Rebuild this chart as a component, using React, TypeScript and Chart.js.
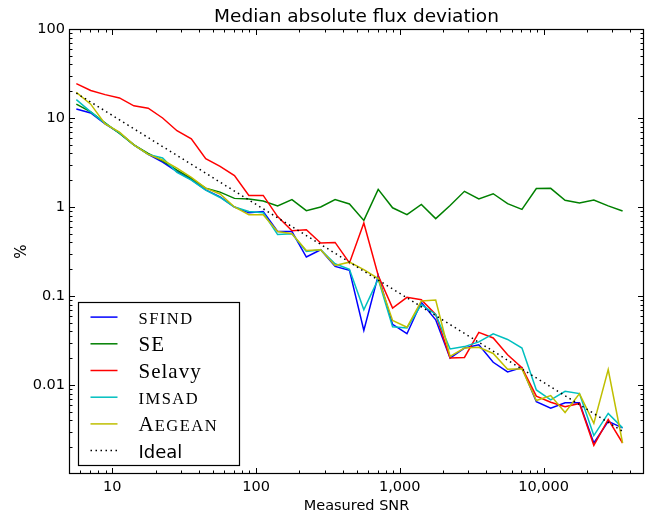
import React, { useEffect, useRef } from 'react';
import { Chart, registerables } from 'chart.js';

Chart.register(...registerables);

// Measured SNR bin centres
const SNR = [
  5.623, 7.079, 8.913, 11.22, 14.13, 17.78, 22.39, 28.18, 35.48, 44.67,
  56.23, 70.79, 89.13, 112.2, 141.3, 177.8, 223.9, 281.8, 354.8, 446.7,
  562.3, 707.9, 891.3, 1122, 1413, 1778, 2239, 2818, 3548, 4467,
  5623, 7079, 8913, 11220, 14125, 17783, 22387, 28184, 35481,
];

const SFIND = [
  12.6, 11.4, 8.6, 6.8, 5.0, 3.9, 3.2, 2.5, 2.03, 1.56,
  1.3, 1.0, 0.86, 0.89, 0.53, 0.53, 0.274, 0.331, 0.215, 0.194,
  0.041, 0.17, 0.048, 0.0377, 0.085, 0.054, 0.0201, 0.026, 0.0283, 0.018,
  0.014, 0.0157, 0.0065, 0.0055, 0.0063, 0.0063, 0.00223, 0.0039, 0.0033,
];

const SE = [
  14.3, 11.7, 8.8, 6.7, 5.0, 4.0, 3.3, 2.6, 2.1, 1.63,
  1.47, 1.25, 1.23, 1.17, 1.03, 1.21, 0.91, 1.0, 1.21, 1.08,
  0.707, 1.58, 0.98, 0.82, 1.07, 0.74, 1.04, 1.5, 1.23, 1.41,
  1.09, 0.94, 1.61, 1.62, 1.19, 1.11, 1.2, 1.03, 0.9,
];

const SELAVY = [
  24.3, 20.4, 18.3, 16.8, 13.7, 12.9, 10.0, 7.2, 5.85, 3.49,
  2.86, 2.25, 1.35, 1.35, 0.78, 0.54, 0.556, 0.394, 0.4, 0.235,
  0.66, 0.17, 0.073, 0.0965, 0.091, 0.062, 0.0201, 0.0204, 0.039, 0.0338,
  0.0219, 0.0156, 0.0075, 0.0064, 0.0057, 0.0062, 0.0021, 0.0041, 0.00223,
];

const IMSAD = [
  16.1, 11.7, 8.7, 6.8, 5.0, 3.9, 3.55, 2.45, 2.0, 1.55,
  1.28, 1.0, 0.89, 0.86, 0.49, 0.5, 0.317, 0.331, 0.23, 0.2,
  0.07, 0.155, 0.045, 0.0437, 0.08, 0.062, 0.0254, 0.027, 0.0305, 0.0376,
  0.0325, 0.026, 0.0088, 0.0068, 0.0085, 0.008, 0.0027, 0.0048, 0.0033,
];

const AEGEAN = [
  19.4, 14.3, 8.6, 6.95, 5.0, 3.9, 3.37, 2.74, 2.15, 1.63,
  1.4, 1.0, 0.82, 0.82, 0.53, 0.5, 0.325, 0.331, 0.22, 0.24,
  0.198, 0.157, 0.053, 0.0445, 0.088, 0.09, 0.021, 0.026, 0.0265, 0.0226,
  0.015, 0.0152, 0.0067, 0.0076, 0.0049, 0.008, 0.0037, 0.0149, 0.00223,
];

const IDEAL = [
  19.0, 15.1, 12.0, 9.54, 7.57, 6.02, 4.78, 3.8, 3.02, 2.4,
  1.9, 1.51, 1.2, 0.954, 0.757, 0.602, 0.478, 0.38, 0.302, 0.24,
  0.19, 0.151, 0.12, 0.0954, 0.0757, 0.0602, 0.0478, 0.038, 0.0302, 0.024,
  0.019, 0.0151, 0.012, 0.00954, 0.00757, 0.00602, 0.00478, 0.0038, 0.00302,
];

const SERIES_LABELS = ['SFIND', 'SE', 'Selavy', 'IMSAD', 'AEGEAN', 'Ideal'];
const X_TICKS = [10, 100, 1000, 10000];
const Y_TICKS = [0.01, 0.1, 1, 10, 100];
const X_RANGE = [5, 50000];
const Y_RANGE = [0.001, 100];

const SANS = 'DejaVu Sans';
const SERIF = 'Liberation Serif';

// legend text style per label: 'sc' small caps, 'sc1' first letter full then small caps
const LEGEND_STYLE: Record<string, string> = {
  SFIND: 'sc',
  SE: 'serif',
  Selavy: 'serif',
  IMSAD: 'sc',
  AEGEAN: 'sc1',
  Ideal: 'sans',
};

function logTicks(min: number, max: number) {
  const out: { v: number; major: boolean }[] = [];
  const e0 = Math.floor(Math.log10(min));
  const e1 = Math.ceil(Math.log10(max));
  for (let e = e0; e <= e1; e++) {
    for (let m = 1; m <= 9; m++) {
      const v = m * Math.pow(10, e);
      if (v > min * 1.0001 && v < max * 0.9999) out.push({ v, major: m === 1 });
    }
  }
  return out;
}

const framePlugin = {
  id: 'frameTicks',
  afterDatasetsDraw(chart: any) {
    const { ctx, chartArea: a, scales } = chart;
    const xs = scales.x;
    const ys = scales.y;
    const L = Math.round(a.left) + 0.5;
    const R = Math.round(a.right) - 0.5;
    const T = Math.round(a.top) + 0.5;
    const B = Math.round(a.bottom) - 0.5;
    ctx.save();
    ctx.strokeStyle = '#000';
    ctx.lineWidth = 1;
    ctx.beginPath();
    for (const t of logTicks(xs.min, xs.max)) {
      const px = Math.round(xs.getPixelForValue(t.v)) + 0.5;
      const len = t.major ? 5.5 : 3;
      ctx.moveTo(px, B);
      ctx.lineTo(px, B - len);
      ctx.moveTo(px, T);
      ctx.lineTo(px, T + len);
    }
    for (const t of logTicks(ys.min, ys.max)) {
      const py = Math.round(ys.getPixelForValue(t.v)) + 0.5;
      const len = t.major ? 5.5 : 3;
      ctx.moveTo(L, py);
      ctx.lineTo(L + len, py);
      ctx.moveTo(R, py);
      ctx.lineTo(R - len, py);
    }
    ctx.stroke();
    ctx.lineWidth = 1.2;
    ctx.strokeRect(L, T, R - L, B - T);
    ctx.restore();
  },
};

const legendPlugin = {
  id: 'innerLegend',
  afterDraw(chart: any) {
    const { ctx, chartArea: a } = chart;
    const datasets = chart.data.datasets;
    const bx = Math.round(a.left) + 9.5;
    const bw = 161;
    const bh = 163;
    const by = Math.round(a.bottom) - 8.5 - bh;
    ctx.save();
    ctx.fillStyle = '#fff';
    ctx.fillRect(bx, by, bw, bh);
    ctx.strokeStyle = '#000';
    ctx.lineWidth = 1.2;
    ctx.strokeRect(bx, by, bw, bh);
    const rowH = 26.7;
    datasets.forEach((ds: any, i: number) => {
      const cy = by + 14.6 + i * rowH;
      ctx.save();
      ctx.strokeStyle = ds.borderColor;
      ctx.lineWidth = ds.borderWidth;
      ctx.setLineDash(ds.borderDash || []);
      ctx.beginPath();
      ctx.moveTo(bx + 12, cy);
      ctx.lineTo(bx + 39, cy);
      ctx.stroke();
      ctx.restore();

      const label = ds.label as string;
      const style = LEGEND_STYLE[label] || 'sans';
      const tx = bx + 60;
      const ty = cy + 7;
      ctx.fillStyle = '#000';
      ctx.textBaseline = 'alphabetic';
      ctx.textAlign = 'left';
      const c: any = ctx;
      if (style === 'serif') {
        ctx.font = `21px "${SERIF}"`;
        c.letterSpacing = '1px';
        ctx.fillText(label, tx, ty);
      } else if (style === 'sc') {
        ctx.font = `16.5px "${SERIF}"`;
        c.letterSpacing = '1.5px';
        ctx.fillText(label, tx, ty);
      } else if (style === 'sc1') {
        ctx.font = `21px "${SERIF}"`;
        c.letterSpacing = '1px';
        const first = label.slice(0, 1);
        ctx.fillText(first, tx, ty);
        const w = ctx.measureText(first).width;
        ctx.font = `16.5px "${SERIF}"`;
        c.letterSpacing = '1.5px';
        ctx.fillText(label.slice(1), tx + w, ty);
      } else {
        ctx.font = `18px "${SANS}"`;
        c.letterSpacing = '0px';
        ctx.fillText(label, tx, ty);
      }
      c.letterSpacing = '0px';
    });
    ctx.restore();
  },
};

export default function App() {
  const ref = useRef<HTMLCanvasElement>(null);

  useEffect(() => {
    const canvas = ref.current;
    if (!canvas) return;
    const series = [SFIND, SE, SELAVY, IMSAD, AEGEAN, IDEAL];
    const colors = ['#0000ff', '#008000', '#ff0000', '#00bfbf', '#bfbf00', '#000000'];
    const datasets = series.map((vals, i) => ({
      label: SERIES_LABELS[i],
      data: SNR.map((x, j) => ({ x, y: vals[j] })),
      borderColor: colors[i],
      backgroundColor: colors[i],
      borderWidth: 1.5,
      borderDash: i === 5 ? [1.5, 3.5] : [],
      borderCapStyle: 'butt' as const,
      pointRadius: 0,
      pointHoverRadius: 0,
      tension: 0,
      fill: false,
      order: series.length - i,
    }));

    const chart = new Chart(canvas, {
      type: 'line',
      data: { datasets },
      plugins: [framePlugin, legendPlugin],
      options: {
        animation: false,
        responsive: false,
        events: [],
        layout: { padding: { left: 0, right: 5, top: 0, bottom: 0 } },
        plugins: {
          legend: { display: false },
          tooltip: { enabled: false },
          title: {
            display: true,
            text: 'Median absolute flux deviation',
            fullSize: false,
            color: '#000',
            font: { family: SANS, size: 18.5, weight: 'normal' },
            padding: { top: 6, bottom: 0.8 },
          },
        },
        scales: {
          x: {
            type: 'logarithmic',
            position: 'bottom',
            min: X_RANGE[0],
            max: X_RANGE[1],
            grid: { display: false, drawTicks: false },
            border: { display: false },
            afterBuildTicks: (s: any) => {
              s.ticks = X_TICKS.map((v) => ({ value: v }));
            },
            afterFit: (s: any) => {
              s.height = 41;
            },
            ticks: {
              autoSkip: false,
              maxRotation: 0,
              minRotation: 0,
              padding: 4.3,
              color: '#000',
              font: { family: SANS, size: 14.5 },
              callback: (v: any) => Number(v).toLocaleString('en-US'),
            },
            title: {
              display: true,
              text: 'Measured SNR',
              color: '#000',
              font: { family: SANS, size: 14.5 },
              padding: { top: 0, bottom: 0.3 },
            },
          },
          y: {
            type: 'logarithmic',
            position: 'left',
            min: Y_RANGE[0],
            max: Y_RANGE[1],
            grid: { display: false, drawTicks: false },
            border: { display: false },
            afterBuildTicks: (s: any) => {
              s.ticks = Y_TICKS.map((v) => ({ value: v }));
            },
            afterFit: (s: any) => {
              s.width = 69;
            },
            ticks: {
              autoSkip: false,
              padding: 4,
              color: '#000',
              font: { family: SANS, size: 14.5 },
              callback: (v: any) => String(Number(v)),
            },
            title: {
              display: true,
              text: '%',
              color: '#000',
              font: { family: SANS, size: 15 },
              padding: { top: 13, bottom: 0 },
            },
          },
        },
      },
    } as any);

    return () => chart.destroy();
  }, []);

  return (
    <div style={{ position: 'absolute', left: 0, top: 0, width: 649, height: 515, background: '#fff' }}>
      <canvas ref={ref} width={649} height={515} style={{ display: 'block' }} />
    </div>
  );
}
